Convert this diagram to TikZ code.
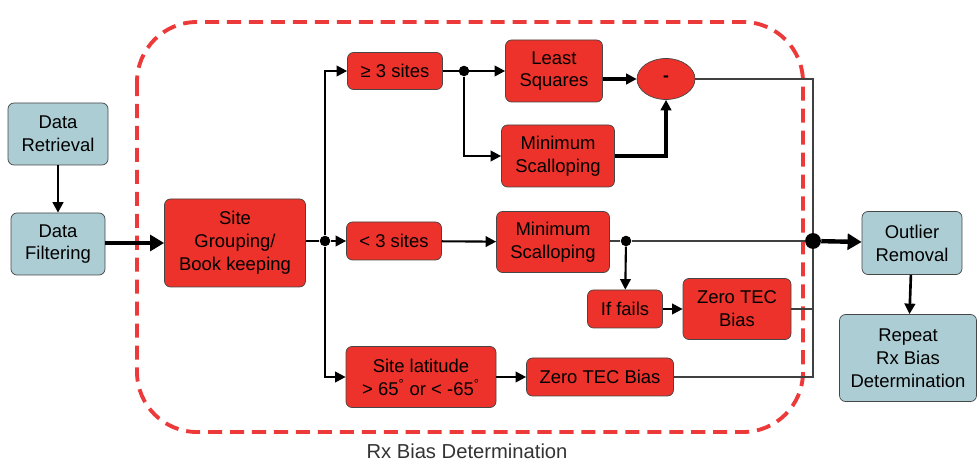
\documentclass[tikz,border=0pt]{standalone}
\usepackage{fontspec}
\setmainfont{Liberation Sans}
\usetikzlibrary{arrows.meta,shapes.geometric}
\definecolor{boxred}{RGB}{236,50,42}
\definecolor{dashred}{RGB}{236,58,58}
\definecolor{boxblue}{RGB}{172,205,212}
\definecolor{edgegray}{RGB}{70,70,70}
\tikzset{
	redbox/.style 2 args={draw=edgegray, fill=boxred, rounded corners=0.12cm, align=center,
		minimum width=#1*0.02cm, minimum height=#2*0.02cm, inner sep=0pt,
		font=\fontsize{10.5}{13}\selectfont},
	bluebox/.style 2 args={redbox={#1}{#2}, fill=boxblue},
	flow/.style={line width=1.2pt, -{Triangle[length=6pt,width=6pt]}},
	bigflow/.style={line width=2.8pt, -{Triangle[length=8pt,width=9pt]}},
	feed/.style={line width=0.6pt, draw=black!75},
	junction/.style={circle, fill=black, inner sep=0pt, minimum size=#1},
}
\begin{document}
\begin{tikzpicture}[x=0.02cm, y=-0.02cm]
		%%%%% START %%%%%
		\useasboundingbox (0, 0) rectangle (977, 462);
		
		% group frame
		\draw[dashred, line width=2.2pt, dash pattern=on 8pt off 4.5pt, rounded corners=1.2cm]
			(137, 22) rectangle (803, 432);
		\node[text=black!80, font=\fontsize{11.5}{13}\selectfont] (title) at (467, 451) {Rx Bias Determination};
		
		% outer steps
		\node[bluebox={100}{62}] (retrieval) at (58, 134) {Data\\Retrieval};
		\node[bluebox={94}{62}] (filtering) at (58, 244) {Data\\Filtering};
		\node[bluebox={100}{63}] (outlier) at (912, 243) {Outlier\\Removal};
		\node[bluebox={137}{87}] (repeat) at (908, 358) {Repeat\\Rx Bias\\Determination};
		
		% inner steps
		\node[redbox={141}{88}] (grouping) at (235, 243) {Site\\Grouping/\\Book keeping};
		\node[redbox={95}{37}] (many) at (395, 71) {≥ 3 sites};
		\node[redbox={97}{62}] (lsq) at (554, 71) {Least\\Squares};
		\node[redbox={113}{62}] (scallopA) at (558, 156) {Minimum\\Scalloping};
		\node[ellipse, draw=edgegray, fill=boxred, minimum width=58*0.02cm, minimum height=41*0.02cm,
			inner sep=0pt, font=\bfseries] (minus) at (666, 79) {-};
		\node[redbox={95}{38}] (few) at (394, 241) {< 3 sites};
		\node[redbox={113}{61}] (scallopB) at (553, 242) {Minimum\\Scalloping};
		\node[redbox={75}{38}] (fails) at (625, 309) {If fails};
		\node[redbox={108}{61}] (zeroA) at (737, 309) {Zero TEC\\Bias};
		\node[redbox={150}{61}] (latitude) at (421, 377) {Site latitude\\> 65\textsuperscript{°} or < -65\textsuperscript{°}};
		\node[redbox={147}{38}] (zeroB) at (600, 377) {Zero TEC Bias};
		
		% junctions
		\node[junction=6pt] (split) at (325, 241) {};
		\node[junction=6pt] (forkA) at (464, 71) {};
		\node[junction=6pt] (forkB) at (626, 241) {};
		\node[junction=9pt] (merge) at (813, 241) {};
		
		% connectors
		\draw[flow, line width=1.5pt] (retrieval) -- (filtering);
		\draw[bigflow] (filtering.east |- grouping) -- (grouping);
		\draw[line width=1.2pt] (grouping.east |- split) -- (split);
		\draw[flow] (split) |- (many);
		\draw[flow] (split) -- (few);
		\draw[flow] (split) |- (latitude);
		\draw[flow] (many) -- (lsq);
		\draw[flow] (forkA) |- (scallopA);
		\draw[flow, line width=2pt] (lsq.east |- minus) -- (minus);
		\draw[flow, line width=2pt] (scallopA) -| (minus);
		\draw[flow] (few) -- (scallopB);
		\draw[feed] (scallopB.east |- forkB) -- (forkB) -- (merge);
		\draw[flow] (forkB) -- (fails);
		\draw[flow] (fails) -- (zeroA);
		\draw[flow] (latitude) -- (zeroB);
		\draw[feed] (minus) -| (merge);
		\draw[feed] (zeroA) -| (merge);
		\draw[feed] (zeroB) -| (merge);
		\draw[bigflow, line width=2.5pt] (merge) -- (outlier);
		\draw[flow, line width=1.5pt] (outlier) -- (repeat);
		
		%%%%% END %%%%%
	\end{tikzpicture}
\end{document}
